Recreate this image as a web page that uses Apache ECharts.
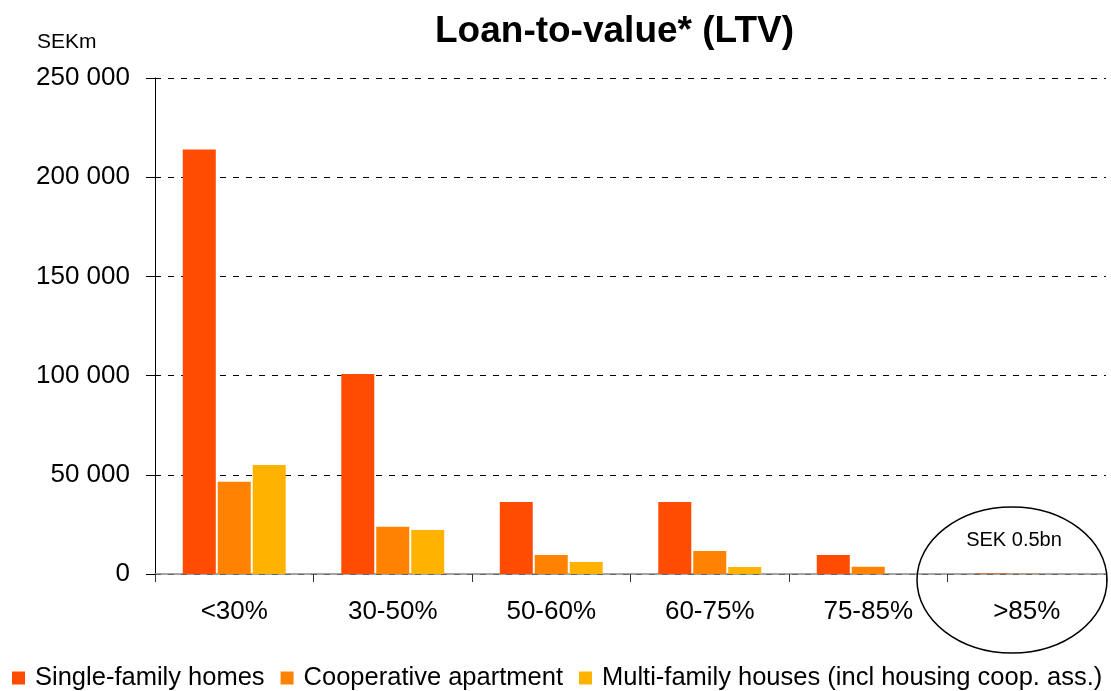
<!DOCTYPE html>
<html>
<head>
<meta charset="utf-8">
<title>Loan-to-value</title>
<script src="https://cdn.jsdelivr.net/npm/echarts@6/dist/echarts.min.js"></script>
<style>
	html, body { margin: 0; padding: 0; background: #fff; }
	#main { width: 1111px; height: 691px; }
</style>
</head>
<body>
<div id="main"></div>
<script>
	var categories = ['<30%', '30-50%', '50-60%', '60-75%', '75-85%', '>85%'];
	var singleFamily = [214000, 100800, 36300, 36300, 9600, 300];
	var cooperative = [46500, 23800, 9600, 11600, 3700, 150];
	var multiFamily = [54900, 22200, 6000, 3500, 0, 50];
	var yTicks = [0, 50000, 100000, 150000, 200000, 250000];

	var font = 'Liberation Sans, Arial, sans-serif';

	var myChart = echarts.init(document.getElementById('main'));

	// 千位用空格分隔
	function fmt(v) {
		return String(v).replace(/\B(?=(\d{3})+(?!\d))/g, ' ');
	}

	var option = {
		animation: false,
		backgroundColor: '#fff',
		title: {
			text: 'Loan-to-value* (LTV)',
			left: 430,
			top: 8,
			textStyle: { fontFamily: font, fontSize: 37, fontWeight: 'bold', color: '#000' }
		},
		legend: {
			left: 12,
			top: 665,
			width: 1099,
			padding: 0,
			itemWidth: 13,
			itemHeight: 13,
			itemGap: 16,
			icon: 'rect',
			textStyle: { fontFamily: font, fontSize: 25.5, color: '#000', padding: [0, 0, 0, 5] },
			data: ['Single-family homes', 'Cooperative apartment', 'Multi-family houses (incl housing coop. ass.)']
		},
		grid: { left: 155, right: 5, top: 78, bottom: 117 },
		xAxis: {
			type: 'category',
			data: categories,
			axisLine: { lineStyle: { color: '#888', width: 1.5 } },
			axisTick: { show: true, interval: 0, length: 8, lineStyle: { color: '#333' } },
			axisLabel: { margin: 25, fontFamily: font, fontSize: 26, color: '#000' }
		},
		yAxis: {
			type: 'value',
			min: yTicks[0],
			max: yTicks[yTicks.length - 1],
			interval: 50000,
			axisLine: { show: true, lineStyle: { color: '#000' } },
			axisTick: { show: true, length: 9, lineStyle: { color: '#000' } },
			axisLabel: {
				margin: 25, fontFamily: font, fontSize: 26, color: '#000',
				formatter: function (v) { return fmt(v); }
			},
			splitLine: { lineStyle: { color: '#000', type: [6, 7] } }
		},
		graphic: [
			{
				type: 'text', left: 37, top: 32,
				style: { text: 'SEKm', fontFamily: font, fontSize: 21, fill: '#000' }
			},
			{
				type: 'ellipse',
				shape: { cx: 1012, cy: 580, rx: 95, ry: 73 },
				style: { fill: 'none', stroke: '#000', lineWidth: 1.5 },
				z: 10
			},
			{
				type: 'text', x: 1014, y: 540,
				style: { text: 'SEK 0.5bn', fontFamily: font, fontSize: 20, fill: '#000', align: 'center', verticalAlign: 'middle' },
				z: 10
			}
		],
		series: [
			{
				name: 'Single-family homes',
				type: 'bar',
				barWidth: 33,
				barGap: '6%',
				itemStyle: { color: '#FF4C00' },
				data: singleFamily
			},
			{
				name: 'Cooperative apartment',
				type: 'bar',
				barWidth: 33,
				barGap: '6%',
				itemStyle: { color: '#FF8300' },
				data: cooperative
			},
			{
				name: 'Multi-family houses (incl housing coop. ass.)',
				type: 'bar',
				barWidth: 33,
				barGap: '6%',
				itemStyle: { color: '#FFB300' },
				data: multiFamily
			}
		]
	};

	myChart.setOption(option);
</script>
</body>
</html>
